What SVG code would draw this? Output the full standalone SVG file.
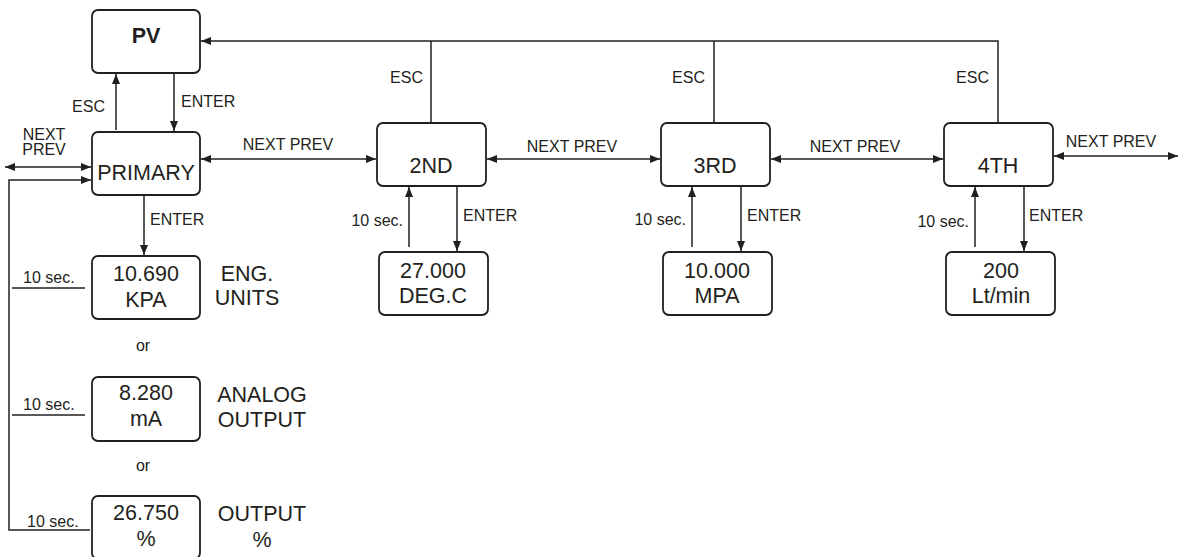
<svg xmlns="http://www.w3.org/2000/svg" width="1179" height="557" viewBox="0 0 1179 557">
<style>
.box{fill:#fff;stroke:#231f20;stroke-width:1.8}
.ln{fill:none;stroke:#231f20;stroke-width:1.5}
.t{font-family:"Liberation Sans",Arial,sans-serif;fill:#231f20}
.big{font-size:21.5px;text-anchor:middle}
.sm{font-size:16px}
.c{text-anchor:middle}
.r{text-anchor:end}
</style>
<defs>
<marker id="a" viewBox="0 0 10 8" refX="10" refY="4" markerWidth="10" markerHeight="8" markerUnits="userSpaceOnUse" orient="auto-start-reverse">
<path d="M0,0 L10,4 L0,8 z" fill="#231f20"/>
</marker>
</defs>
<rect width="1179" height="557" fill="#fff"/>
<g id="connectors">
<path class="ln" d="M998,123 V41 H201" marker-end="url(#a)"/>
<path class="ln" d="M431,123 V41"/>
<path class="ln" d="M714,123 V41"/>
<path class="ln" d="M116,130 V74" marker-end="url(#a)"/>
<path class="ln" d="M174,73 V131" marker-end="url(#a)"/>
<path class="ln" d="M5,167 H91" marker-start="url(#a)" marker-end="url(#a)"/>
<path class="ln" d="M90,530 H9 V180 H91" marker-end="url(#a)"/>
<path class="ln" d="M12,288 H85"/>
<path class="ln" d="M12,415 H85"/>
<path class="ln" d="M201,159 H376" marker-start="url(#a)" marker-end="url(#a)"/>
<path class="ln" d="M487,159 H660" marker-start="url(#a)" marker-end="url(#a)"/>
<path class="ln" d="M771,159 H943" marker-start="url(#a)" marker-end="url(#a)"/>
<path class="ln" d="M1054,156 H1178" marker-start="url(#a)" marker-end="url(#a)"/>
<path class="ln" d="M144,196 V255" marker-end="url(#a)"/>
<path class="ln" d="M409,247 V187" marker-end="url(#a)"/>
<path class="ln" d="M457,187 V251" marker-end="url(#a)"/>
<path class="ln" d="M692,247 V187" marker-end="url(#a)"/>
<path class="ln" d="M741,187 V251" marker-end="url(#a)"/>
<path class="ln" d="M975,247 V187" marker-end="url(#a)"/>
<path class="ln" d="M1024,187 V251" marker-end="url(#a)"/>
</g>
<g id="labels" class="t sm">
<text x="105" y="112" class="r">ESC</text>
<text x="181" y="107">ENTER</text>
<text x="44" y="140" class="c">NEXT</text>
<text x="44" y="155" class="c">PREV</text>
<text x="288" y="150" class="c">NEXT PREV</text>
<text x="572" y="152" class="c">NEXT PREV</text>
<text x="855" y="152" class="c">NEXT PREV</text>
<text x="1111" y="147" class="c">NEXT PREV</text>
<text x="423" y="83" class="r">ESC</text>
<text x="705" y="83" class="r">ESC</text>
<text x="989" y="83" class="r">ESC</text>
<text x="403" y="226" class="r">10 sec.</text>
<text x="686" y="225" class="r">10 sec.</text>
<text x="969" y="227" class="r">10 sec.</text>
<text x="463" y="221">ENTER</text>
<text x="747" y="221">ENTER</text>
<text x="1029" y="221">ENTER</text>
<text x="150" y="225">ENTER</text>
<text x="23" y="283">10 sec.</text>
<text x="23" y="410">10 sec.</text>
<text x="27" y="527">10 sec.</text>
<text x="143" y="351" class="c">or</text>
<text x="143" y="471" class="c">or</text>
</g>
<g id="pv"><rect class="box" x="92" y="10" width="108" height="63" rx="6"/><text class="t big" x="146" y="43" font-weight="bold">PV</text></g>
<g id="primary"><rect class="box" x="92" y="132" width="108" height="63" rx="6"/><text class="t big" x="146" y="180">PRIMARY</text></g>
<g id="n2nd"><rect class="box" x="377" y="123" width="109" height="63" rx="6"/><text class="t big" x="431" y="173">2ND</text></g>
<g id="n3rd"><rect class="box" x="661" y="123" width="109" height="63" rx="6"/><text class="t big" x="715" y="173">3RD</text></g>
<g id="n4th"><rect class="box" x="944" y="123" width="109" height="63" rx="6"/><text class="t big" x="998" y="173">4TH</text></g>
<g id="v2"><rect class="box" x="379" y="252" width="109" height="63" rx="6"/><text class="t big" x="433" y="278">27.000</text><text class="t big" x="433" y="303">DEG.C</text></g>
<g id="v3"><rect class="box" x="663" y="252" width="109" height="63" rx="6"/><text class="t big" x="717" y="278">10.000</text><text class="t big" x="717" y="303">MPA</text></g>
<g id="v4"><rect class="box" x="946" y="252" width="109" height="63" rx="6"/><text class="t big" x="1001" y="278">200</text><text class="t big" x="1001" y="303">Lt/min</text></g>
<g id="eng"><rect class="box" x="92" y="256" width="108" height="63" rx="6"/><text class="t big" x="146" y="281">10.690</text><text class="t big" x="146" y="307">KPA</text><text class="t big" x="247" y="281">ENG.</text><text class="t big" x="247" y="305">UNITS</text></g>
<g id="analog"><rect class="box" x="92" y="377" width="108" height="64" rx="6"/><text class="t big" x="146" y="400">8.280</text><text class="t big" x="146" y="426">mA</text><text class="t big" x="262" y="402">ANALOG</text><text class="t big" x="262" y="427">OUTPUT</text></g>
<g id="pct"><rect class="box" x="92" y="496" width="108" height="63" rx="6"/><text class="t big" x="146" y="520">26.750</text><text class="t big" x="146" y="546">%</text><text class="t big" x="262" y="521">OUTPUT</text><text class="t big" x="262" y="547">%</text></g>
</svg>
